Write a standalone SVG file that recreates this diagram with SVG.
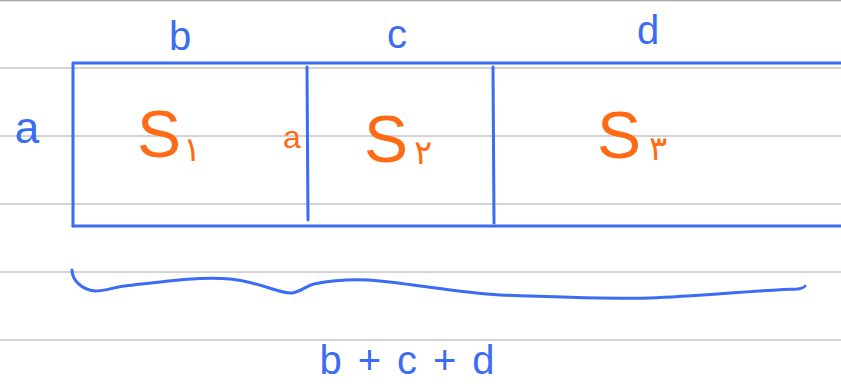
<svg xmlns="http://www.w3.org/2000/svg" width="841" height="392" viewBox="0 0 841 392">
<style>
.rule{stroke:#a8a8a8;stroke-width:1.2;fill:none}
.ink{stroke:#3a6cf4;stroke-width:3;fill:none;stroke-linecap:round;stroke-linejoin:round}
.bl{fill:#3a6cf4;font-family:"Liberation Sans","DejaVu Sans",sans-serif;text-anchor:middle}
.or{fill:#ff6a14;font-family:"Liberation Sans","DejaVu Sans",sans-serif;text-anchor:start}
.dg{font-family:"DejaVu Sans","Noto Sans",sans-serif}
</style>
<rect width="841" height="392" fill="#ffffff"/>
<g id="rules">
<line class="rule" x1="0" y1="0.6" x2="841" y2="0.6"/>
<line class="rule" x1="0" y1="68" x2="841" y2="68"/>
<line class="rule" x1="0" y1="136" x2="841" y2="136"/>
<line class="rule" x1="0" y1="204" x2="841" y2="204"/>
<line class="rule" x1="0" y1="272" x2="841" y2="272"/>
<line class="rule" x1="0" y1="340" x2="841" y2="340"/>
</g>
<g id="rectangle">
<path class="ink" d="M73,226 L73,63 L841,63"/>
<path class="ink" d="M73,226 L841,226"/>
<path class="ink" d="M307,67 L308,220"/>
<path class="ink" d="M493,67 L494,223"/>
</g>
<g id="brace">
<path class="ink" d="M72,270 C72,280 82,290 95,291 C105,291 115,287 125,286 C160,282 200,276 230,279 C260,282 280,294 292,293 C300,292 306,286 314,284 C340,279 360,279 380,281 C420,285 460,293 500,295 C560,297 610,299 650,298 C700,296 760,290 798,289 C802,288 805,287 805,286"/>
</g>
<g id="labels">
<text class="bl" x="180" y="50" font-size="40">b</text>
<text class="bl" x="397" y="48" font-size="40">c</text>
<text class="bl" x="648" y="44" font-size="40">d</text>
<text class="bl" x="27" y="143" font-size="44">a</text>
<text class="or" x="283" y="148" font-size="32">a</text>
<text class="or" x="137" y="157" font-size="66">S<tspan class="dg" font-size="34" dx="2" dy="4">۱</tspan></text>
<text class="or" x="364" y="162" font-size="66">S<tspan class="dg" font-size="34" dx="6" dy="2">۲</tspan></text>
<text class="or" x="597" y="158" font-size="66">S<tspan class="dg" font-size="34" dx="8" dy="2">۳</tspan></text>
<text class="bl" x="415" y="374" font-size="40" letter-spacing="16">b+c+d</text>
</g>
</svg>
